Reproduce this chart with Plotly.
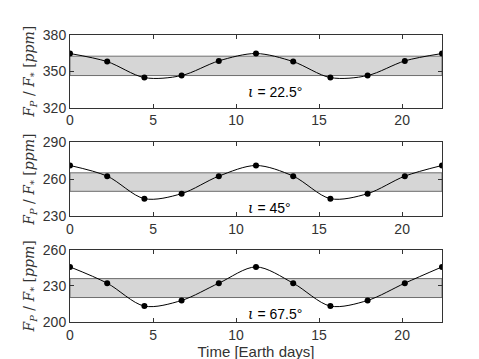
import plotly.graph_objects as go
from plotly.subplots import make_subplots

# time samples [Earth days]
time_days = [0, 2.24, 4.48, 6.72, 8.96, 11.2, 13.44, 15.68, 17.92, 20.16, 22.4]

# F_P / F_star [ppm] for each inclination
flux_225 = [364.7, 358.0, 344.8, 346.5, 358.6, 364.7, 358.0, 344.8, 346.5, 358.6, 364.7]
flux_45 = [271.1, 262.4, 244.0, 248.1, 262.4, 271.1, 262.4, 244.0, 248.1, 262.4, 271.1]
flux_675 = [245.7, 232.2, 213.2, 217.9, 232.2, 245.7, 232.2, 213.2, 217.9, 232.2, 245.7]

# shaded band (low, high) per panel
bands = [(346.5, 362.5), (250.0, 265.1), (220.3, 236.0)]
yranges = [(320, 380), (230, 290), (200, 260)]
yticks = [[320, 350, 380], [230, 260, 290], [200, 230, 260]]
incl = ["22.5", "45", "67.5"]
label_y = [333, 236.5, 206.8]
series = [flux_225, flux_45, flux_675]

fig = make_subplots(rows=3, cols=1, vertical_spacing=0.12)

axis_col = "#333333"
sans = "Liberation Sans, Arial"
for i, (vals, band) in enumerate(zip(series, bands)):
    r = i + 1
    fig.add_trace(
        go.Scatter(x=[0, 22.4, 22.4, 0, 0], y=[band[0], band[0], band[1], band[1], band[0]],
                   fill="toself", fillcolor="#d6d6d6", mode="lines",
                   line=dict(color="#6e6e6e", width=1), hoverinfo="skip"),
        row=r, col=1,
    )
    fig.add_trace(
        go.Scatter(x=time_days, y=vals, mode="lines+markers", line_shape="spline",
                   line=dict(color="black", width=1, smoothing=0.9),
                   marker=dict(color="black", size=6)),
        row=r, col=1,
    )
    fig.add_annotation(
        x=10.6, y=label_y[i], showarrow=False, xanchor="left",
        text="<span style='font-family:DejaVu Serif'><i>\u03b9</i></span> = " + incl[i] + "\u00b0",
        font=dict(family=sans, size=14, color="black"),
        row=r, col=1,
    )
    fig.update_yaxes(range=yranges[i], tickvals=yticks[i], row=r, col=1)

fig.update_xaxes(range=[0, 22.4], tickvals=[0, 5, 10, 15, 20], ticks="inside", ticklen=4,
                 showline=True, linecolor=axis_col, linewidth=1, mirror="allticks",
                 showgrid=False, zeroline=False, tickcolor=axis_col,
                 tickfont=dict(family=sans, size=14, color=axis_col))
fig.update_yaxes(ticks="inside", ticklen=4, showline=True, linecolor=axis_col, linewidth=1,
                 mirror="allticks", showgrid=False, zeroline=False, tickcolor=axis_col,
                 title=dict(text="<i>F<sub>P</sub></i> / <i>F</i><sub>*</sub> [<i>ppm</i>]",
                            font=dict(family="DejaVu Serif, serif", size=14, color=axis_col),
                            standoff=4),
                 tickfont=dict(family=sans, size=14, color=axis_col))
fig.update_xaxes(title=dict(text="Time [Earth days]",
                            font=dict(family=sans, size=15, color=axis_col),
                            standoff=2), row=3, col=1)

fig.update_layout(
    width=479, height=359, showlegend=False,
    paper_bgcolor="white", plot_bgcolor="white",
    margin=dict(l=62, r=45, t=27, b=43),
    yaxis=dict(domain=[0.747, 1.0]),
    yaxis2=dict(domain=[0.370, 0.626]),
    yaxis3=dict(domain=[0.0, 0.252]),
)

fig.write_html("out.html")
